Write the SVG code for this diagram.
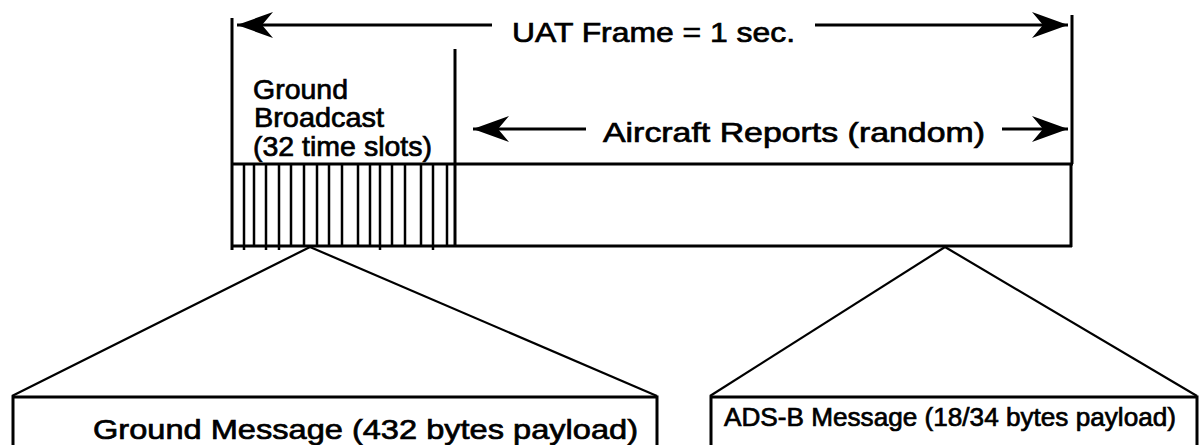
<svg xmlns="http://www.w3.org/2000/svg" width="1200" height="445" viewBox="0 0 1200 445">
  <style>
    .ln { stroke: #000; stroke-width: 3; fill: none; }
    .tk { stroke: #000; stroke-width: 2.5; fill: none; }
    .dg { stroke: #000; stroke-width: 2.2; fill: none; }
    .t { font-family: "Liberation Sans", Arial, sans-serif; font-size: 28px; fill: #000; stroke: #000; stroke-width: 0.7; }
    .ts { font-family: "Liberation Sans", Arial, sans-serif; font-size: 26px; fill: #000; stroke: #000; stroke-width: 0.7; }
  </style>
  <defs>
    <marker id="ah" viewBox="0 0 36 28" refX="36" refY="14" markerWidth="36" markerHeight="28" markerUnits="userSpaceOnUse" orient="auto">
      <path d="M36 14 L0 1 L11 14 L0 27 Z" fill="#000"/>
    </marker>
  </defs>

  <g id="frame">
    <line class="ln" x1="232" y1="18" x2="232" y2="250"/>
    <line class="ln" x1="1072" y1="15" x2="1072" y2="164"/>
    <line class="ln" x1="1071" y1="164" x2="1071" y2="247"/>
    <line class="ln" x1="232" y1="164" x2="1073" y2="164"/>
    <line class="ln" x1="232" y1="246" x2="1072" y2="246"/>
    <line class="ln" x1="455" y1="49" x2="455" y2="247"/>
    <text class="t" x="512" y="42" textLength="283" lengthAdjust="spacingAndGlyphs">UAT Frame = 1 sec.</text>
  </g>

  <g id="ground-broadcast">
    <g>
      <line class="tk" x1="244" y1="164" x2="244" y2="250"/>
      <line class="tk" x1="254" y1="164" x2="254" y2="247"/>
      <line class="tk" x1="266" y1="164" x2="266" y2="250"/>
      <line class="tk" x1="279" y1="164" x2="279" y2="250"/>
      <line class="tk" x1="291" y1="164" x2="291" y2="247"/>
      <line class="tk" x1="304" y1="164" x2="304" y2="247"/>
      <line class="tk" x1="317" y1="164" x2="317" y2="247"/>
      <line class="tk" x1="329" y1="164" x2="329" y2="247"/>
      <line class="tk" x1="342" y1="164" x2="342" y2="247"/>
      <line class="tk" x1="358" y1="164" x2="358" y2="247"/>
      <line class="tk" x1="370" y1="164" x2="370" y2="247"/>
      <line class="tk" x1="380" y1="164" x2="380" y2="250"/>
      <line class="tk" x1="392" y1="164" x2="392" y2="247"/>
      <line class="tk" x1="405" y1="164" x2="405" y2="247"/>
      <line class="tk" x1="421" y1="164" x2="421" y2="247"/>
      <line class="tk" x1="433" y1="164" x2="433" y2="250"/>
      <line class="tk" x1="447" y1="164" x2="447" y2="247"/>
    </g>
    <text class="t" x="253" y="99" textLength="95" lengthAdjust="spacingAndGlyphs">Ground</text>
    <text class="t" x="254" y="127" textLength="130" lengthAdjust="spacingAndGlyphs">Broadcast</text>
    <text class="t" x="253" y="156" textLength="179" lengthAdjust="spacingAndGlyphs">(32 time slots)</text>
  </g>

  <g id="aircraft-reports">
    <text class="t" x="603" y="142" textLength="382" lengthAdjust="spacingAndGlyphs">Aircraft Reports (random)</text>
  </g>

  <g id="ground-message">
    <polyline class="ln" points="13,445 13,397 657,397 657,445"/>
    <text class="t" x="93" y="439" textLength="545" lengthAdjust="spacingAndGlyphs">Ground Message (432 bytes payload)</text>
  </g>

  <g id="adsb-message">
    <polyline class="ln" points="711,445 711,397 1197,397 1197,445"/>
    <text class="ts" x="724" y="426" textLength="452" lengthAdjust="spacingAndGlyphs">ADS-B Message (18/34 bytes payload)</text>
  </g>

  <g id="connectors">
    <line class="ln" x1="492" y1="25" x2="237" y2="25" marker-end="url(#ah)"/>
    <line class="ln" x1="815" y1="25" x2="1068" y2="25" marker-end="url(#ah)"/>
    <line class="ln" x1="586" y1="129" x2="473" y2="129" marker-end="url(#ah)"/>
    <line class="ln" x1="1002" y1="129" x2="1068" y2="129" marker-end="url(#ah)"/>
    <line class="dg" x1="310" y1="247" x2="12" y2="396"/>
    <line class="dg" x1="310" y1="247" x2="657" y2="396"/>
    <line class="dg" x1="945" y1="247" x2="710" y2="396"/>
    <line class="dg" x1="945" y1="247" x2="1197" y2="396"/>
  </g>
</svg>
